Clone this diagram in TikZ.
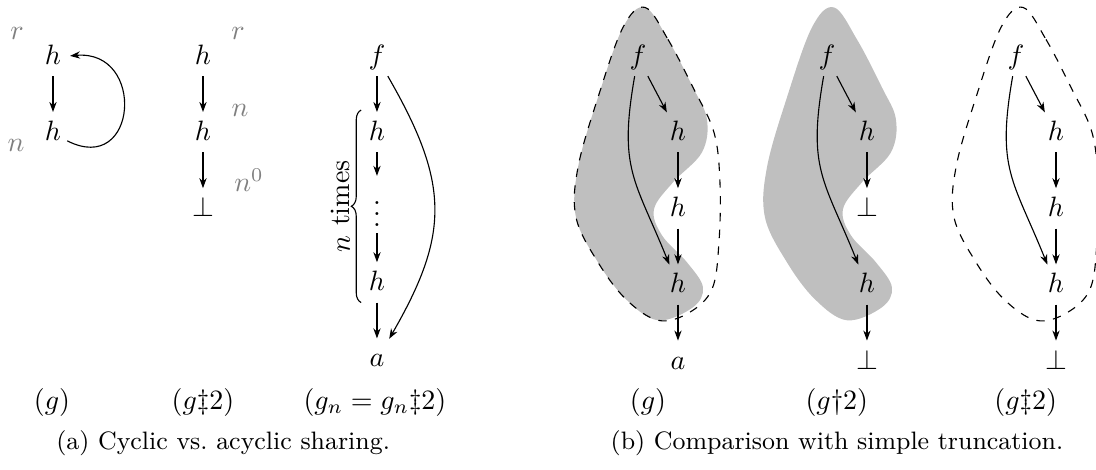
\documentclass[tikz,border=0pt]{standalone}
\usepackage{amsmath, amssymb}
\usepackage{tikz}
\usetikzlibrary{arrows.meta, positioning, calc, decorations.pathreplacing}

\begin{document}
\begin{tikzpicture}[
    node distance=0.485cm,
    v/.style={text height=7pt, text depth=2pt, inner sep=2pt},
    lab/.style={text=gray},
    arr/.style={-{Stealth[length=3.6pt, width=2.6pt]}, shorten >=1pt},
    brace/.style={decorate, decoration={brace, amplitude=3.5pt}},
    px/.style={x=0.012547cm, y=-0.012547cm},
    hull/.pic={\draw[dashed, px] plot[smooth cycle, tension=0.6] coordinates {
        (7,-50) (30,-18) (55,30) (76,75) (82,125) (81,185) (74,232) (50,256) (20,263)
        (-12,242) (-40,205) (-62,160) (-60,110) (-40,40) (-15,-30)};},
    blob/.pic={\fill[gray!50, px] plot[smooth cycle, tension=0.6] coordinates {
        (7,-50) (30,-18) (55,30) (69,62) (64,95) (35,125) (16,152) (24,178) (49,205)
        (65,230) (55,250) (20,263) (-12,242) (-40,205) (-62,160) (-60,110) (-40,40) (-15,-30)};}
  ]
  \useasboundingbox (0,0) rectangle (13.752,-5.897);

  % (a) cyclic graph
  \node[v] (ah1) at (0.665,-0.72) {$h$};
  \node[v, below=of ah1] (ah2) {$h$};
  \node[lab] (ar) at (0.213,-0.414) {$r$};
  \node[lab] (an) at (0.201,-1.819) {$n$};
  \draw[arr] (ah1) -- (ah2);
  \draw[arr] (ah2) to[out=-27, in=5, looseness=2.4] (ah1);

  % (a) unfolded to depth 2
  \node[v] (bh1) at (2.547,-0.72) {$h$};
  \node[v, below=of bh1] (bh2) {$h$};
  \node[v, below=of bh2] (bbot) {$\bot$};
  \node[lab] (br) at (2.986,-0.414) {$r$};
  \node[lab] (bn) at (3.011,-1.380) {$n$};
  \node[lab] (bn0) at (3.124,-2.26) {$n^0$};
  \draw[arr] (bh1) -- (bh2);
  \draw[arr] (bh2) -- (bbot);

  % (a) acyclic sharing
  \node[v] (cf) at (4.730,-0.72) {$f$};
  \node[v, below=of cf] (ch1) {$h$};
  \node[inner sep=2pt, below=0.33cm of ch1] (cdots) {$\vdots$};
  \node[v, below=0.40cm of cdots] (ch2) {$h$};
  \node[v, below=of ch2] (ca) {$a$};
  \draw[arr] (cf) -- (ch1);
  \draw[arr] (ch1) -- (cdots);
  \draw[arr] (cdots) -- (ch2);
  \draw[arr] (ch2) -- (ca);
  \draw[arr] (cf) to[bend left=30, looseness=1.2] (ca);
  \draw[brace] ($(ch2.south west)+(-0.02,0)$) -- coordinate[midway] (bm) ($(ch1.north west)+(-0.02,0.06)$);
  \node[rotate=90, anchor=base] (ntimes) at ($(bm)+(-0.14,0)$) {$n$ times};

  % (b) g with its shaded truncations
  \coordinate (g1) at (8.005,-0.72);
  \coordinate (g2) at (10.376,-0.72);
  \coordinate (g3) at (12.748,-0.72);
  \pic at (g1) {blob};
  \pic at (g1) {hull};
  \pic at (g2) {blob};
  \pic at (g3) {hull};

  \node[v] (df) at (g1) {$f$};
  \node[v, below=of df, xshift=0.502cm] (dh1) {$h$};
  \node[v, below=of dh1] (dh2) {$h$};
  \node[v, below=of dh2] (dh3) {$h$};
  \node[v, below=of dh3] (da) {$a$};
  \draw[arr] (df) -- (dh1);
  \draw[arr] (dh1) -- (dh2);
  \draw[arr] (dh2) -- (dh3);
  \draw[arr] (dh3) -- (da);
  \draw[arr] (df) to[out=-100, in=112, looseness=1.25] (dh3);

  \node[v] (ef) at (g2) {$f$};
  \node[v, below=of ef, xshift=0.502cm] (eh1) {$h$};
  \node[v, below=of eh1] (ebot1) {$\bot$};
  \node[v, below=of ebot1] (eh3) {$h$};
  \node[v, below=of eh3] (ebot2) {$\bot$};
  \draw[arr] (ef) -- (eh1);
  \draw[arr] (eh1) -- (ebot1);
  \draw[arr] (eh3) -- (ebot2);
  \draw[arr] (ef) to[out=-100, in=112, looseness=1.25] (eh3);

  \node[v] (ff) at (g3) {$f$};
  \node[v, below=of ff, xshift=0.502cm] (fh1) {$h$};
  \node[v, below=of fh1] (fh2) {$h$};
  \node[v, below=of fh2] (fh3) {$h$};
  \node[v, below=of fh3] (fbot) {$\bot$};
  \draw[arr] (ff) -- (fh1);
  \draw[arr] (fh1) -- (fh2);
  \draw[arr] (fh2) -- (fh3);
  \draw[arr] (fh3) -- (fbot);
  \draw[arr] (ff) to[out=-100, in=112, looseness=1.25] (fh3);

  % graph names
  \node[anchor=base] (la1) at (0.652,-5.132) {$(g)$};
  \node[anchor=base] (la2) at (2.547,-5.132) {$(g{\ddagger}2)$};
  \node[anchor=base] (la3) at (4.705,-5.132) {$(g_n = g_n{\ddagger}2)$};
  \node[anchor=base] (lb1) at (8.13,-5.132) {$(g)$};
  \node[anchor=base] (lb2) at (10.50,-5.132) {$(g{\dagger}2)$};
  \node[anchor=base] (lb3) at (12.87,-5.132) {$(g{\ddagger}2)$};

  % captions
  \node[anchor=base, font=\small] (capa) at (2.80,-5.634) {(a) Cyclic vs.\ acyclic sharing.};
  \node[anchor=base, font=\small] (capb) at (10.502,-5.634) {(b) Comparison with simple truncation.};
\end{tikzpicture}
\end{document}
